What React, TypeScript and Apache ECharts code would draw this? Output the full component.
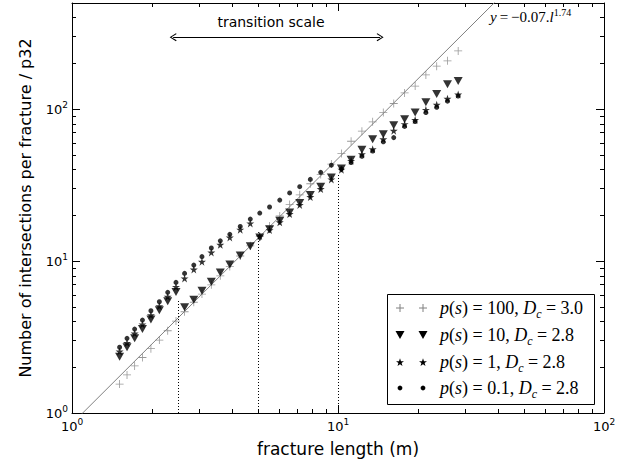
import React, { useEffect, useRef } from "react";
import * as echarts from "echarts";

// fracture length (m) – sample positions
const lengthsM = [1.51, 1.61, 1.72, 1.84, 1.98, 2.13, 2.29, 2.46, 2.65, 2.87, 3.08, 3.34, 3.61, 3.92, 4.29, 4.68, 5.08, 5.53, 6.04, 6.58, 7.18, 7.87, 8.61, 9.44, 10.3, 11.2, 12.3, 13.5, 14.8, 16.2, 17.8, 19.5, 21.4, 23.5, 25.8, 28.3];
// p(s)=100, Dc=3.0
const ps100 = [1.55, 1.78, 2.04, 2.32, 2.65, 3.02, 3.48, 4.03, 4.64, 5.36, 6.07, 6.98, 8.0, 9.23, 10.8, 12.6, 14.5, 17.0, 19.8, 23.6, 27.3, 32.3, 37.2, 43.5, 51.0, 61.5, 71.7, 82.5, 95, 109, 128, 142, 168, 192, 208, 242];
// p(s)=10, Dc=2.8
const ps10 = [2.35, 2.71, 3.1, 3.57, 4.13, 4.74, 5.45, 6.27, 4.96, 5.56, 6.37, 7.3, 8.41, 9.5, 10.9, 12.5, 14.3, 16.2, 18.4, 20.9, 24.1, 27.2, 30.8, 35.5, 40.7, 46.4, 54.0, 63.4, 68.4, 78.5, 86.0, 95.1, 111, 126, 146, 153];
// p(s)=1, Dc=2.8
const ps1 = [2.54, 2.89, 3.34, 3.83, 4.4, 5.05, 5.83, 6.76, 7.69, 8.81, 9.9, 11.4, 12.8, 14.3, 16.1, 17.7, 14.6, 16.0, 18.0, 20.4, 23.4, 26.4, 29.8, 34.5, 40.0, 45.7, 50.5, 54.5, 63.4, 72.1, 79.7, 85, 99, 107, 117, 125];
// p(s)=0.1, Dc=2.8
const ps01 = [2.71, 3.1, 3.57, 4.09, 4.71, 5.4, 6.23, 7.24, 8.3, 9.41, 10.7, 12.2, 13.6, 15.0, 16.9, 18.9, 20.7, 22.7, 25.2, 28.1, 30.9, 34.5, 38.4, 42.8, 40.5, 44.5, 49, 53, 61, 65, 77, 83, 95, 103, 113, 122];

// fitted power law (end points of the drawn line)
const fitLengths = [1, 60];
const fitValues = [0.851, 1079];

// transition scales (dotted lines) and their upper ends
const transitionScales = [2.5, 5, 10];
const transitionTops = [5.6, 15.5, 38];
// "transition scale" arrow span
const arrowSpan = [2.4, 14.4];
const arrowLevel = 298;

const majorX = [1, 10, 100];
const minorX = [2, 3, 4, 5, 6, 7, 8, 9, 20, 30, 40, 50, 60, 70, 80, 90];
const majorY = [1, 10, 100];
const minorY = [2, 3, 4, 5, 6, 7, 8, 9, 20, 30, 40, 50, 60, 70, 80, 90, 200, 300, 400];

const seriesNames = ["p(s)=100, Dc=3.0", "p(s)=10, Dc=2.8", "p(s)=1, Dc=2.8", "p(s)=0.1, Dc=2.8"];
const legendPs = ["100", "10", "1", "0.1"];
const legendDc = ["3.0", "2.8", "2.8", "2.8"];

const SANS = "DejaVu Sans";
const SERIF = "Liberation Serif";

const PLUS = "path://M4.5,0H5.5V4.5H10V5.5H5.5V10H4.5V5.5H0V4.5H4.5Z";
const TRI = "path://M0,0L10,0L5,9Z";
const STAR = "path://M50,0L61.2,34.5L97.6,34.5L68.2,55.9L79.4,90.5L50,69.1L20.6,90.5L31.8,55.9L2.4,34.5L38.8,34.5Z";
const CHEVRON = "path://M5,0L10,9L9,10L5,2.5L1,10L0,9Z";

function starPoints(cx: number, cy: number, R: number) {
  const pts: number[][] = [];
  const r = R * 0.4;
  for (let i = 0; i < 10; i++) {
    const a = -Math.PI / 2 + (i * Math.PI) / 5;
    const rad = i % 2 === 0 ? R : r;
    pts.push([cx + rad * Math.cos(a), cy + rad * Math.sin(a)]);
  }
  return pts;
}

function legendMarker(kind: number, cx: number, cy: number): any {
  if (kind === 0) {
    return {
      type: "group",
      children: [
        { type: "line", shape: { x1: cx - 4, y1: cy, x2: cx + 4, y2: cy }, style: { stroke: "#808080", lineWidth: 1 } },
        { type: "line", shape: { x1: cx, y1: cy - 4, x2: cx, y2: cy + 4 }, style: { stroke: "#808080", lineWidth: 1 } },
      ],
    };
  }
  if (kind === 1) {
    return { type: "polygon", shape: { points: [[cx - 4.5, cy - 4], [cx + 4.5, cy - 4], [cx, cy + 4]] }, style: { fill: "#000" } };
  }
  if (kind === 2) {
    return { type: "polygon", shape: { points: starPoints(cx, cy + 0.5, 4.2) }, style: { fill: "#000" } };
  }
  return { type: "circle", shape: { cx, cy, r: 2.4 }, style: { fill: "#000" } };
}

export default function App() {
  const ref = useRef<HTMLDivElement>(null);
  useEffect(() => {
    if (!ref.current) return;
    const chart = echarts.init(ref.current, undefined, { renderer: "svg" });

    const tickLabelRich = {
      b: { fontSize: 13, fontFamily: SANS, color: "#000", lineHeight: 18, verticalAlign: "middle" },
      s: { fontSize: 9, fontFamily: SANS, color: "#000", lineHeight: 10, verticalAlign: "top" },
    };
    const fmt = (v: number) => "{b|10}{s|" + Math.round(Math.log10(v)) + "}";

    const logX = { type: "log", logBase: 10, min: 1, max: 100 };
    const logY = { type: "log", logBase: 10, min: 1, max: 500 };
    const axisLine = { show: true, onZero: false, lineStyle: { color: "#000", width: 1 } };

    const xAxes = [
      {
        ...logX,
        position: "bottom",
        axisLine,
        axisTick: { show: true, inside: true, length: 8, customValues: majorX, lineStyle: { color: "#000" } },
        axisLabel: { show: true, customValues: majorX, formatter: fmt, rich: tickLabelRich, margin: 4 },
        splitLine: { show: false },
        name: "fracture length (m)",
        nameLocation: "middle",
        nameGap: 27,
        nameTextStyle: { fontFamily: SANS, fontSize: 17, color: "#000" },
      },
      {
        ...logX,
        position: "bottom",
        axisLine: { show: false },
        axisTick: { show: true, inside: true, length: 4, customValues: minorX, lineStyle: { color: "#000" } },
        axisLabel: { show: false },
        splitLine: { show: false },
      },
      {
        ...logX,
        position: "top",
        axisLine,
        axisTick: { show: true, inside: true, length: 8, customValues: majorX, lineStyle: { color: "#000" } },
        axisLabel: { show: false },
        splitLine: { show: false },
      },
      {
        ...logX,
        position: "top",
        axisLine: { show: false },
        axisTick: { show: true, inside: true, length: 4, customValues: minorX, lineStyle: { color: "#000" } },
        axisLabel: { show: false },
        splitLine: { show: false },
      },
    ];
    const yAxes = [
      {
        ...logY,
        position: "left",
        axisLine,
        axisTick: { show: true, inside: true, length: 8, customValues: majorY, lineStyle: { color: "#000" } },
        axisLabel: { show: true, customValues: majorY, formatter: fmt, rich: tickLabelRich, margin: 4 },
        splitLine: { show: false },
        name: "Number of intersections per fracture / p32",
        nameLocation: "middle",
        nameGap: 39,
        nameTextStyle: { fontFamily: SANS, fontSize: 16, color: "#000" },
      },
      {
        ...logY,
        position: "left",
        axisLine: { show: false },
        axisTick: { show: true, inside: true, length: 4, customValues: minorY, lineStyle: { color: "#000" } },
        axisLabel: { show: false },
        splitLine: { show: false },
      },
      {
        ...logY,
        position: "right",
        axisLine,
        axisTick: { show: true, inside: true, length: 8, customValues: majorY, lineStyle: { color: "#000" } },
        axisLabel: { show: false },
        splitLine: { show: false },
      },
      {
        ...logY,
        position: "right",
        axisLine: { show: false },
        axisTick: { show: true, inside: true, length: 4, customValues: minorY, lineStyle: { color: "#000" } },
        axisLabel: { show: false },
        splitLine: { show: false },
      },
    ];

    const pairs = (ys: number[]) => lengthsM.map((x, i) => [x, ys[i]]);

    const dotted = { type: [1, 2], color: "#000", width: 1 };
    const markLineData: any[] = transitionScales.map((x, i) => [
      { coord: [x, 1], symbol: "none", lineStyle: dotted },
      { coord: [x, transitionTops[i]], symbol: "none" },
    ]);
    markLineData.push([
      { coord: [arrowSpan[0], arrowLevel], symbol: CHEVRON, symbolSize: [8, 7], lineStyle: { type: "solid", color: "#000", width: 1 } },
      { coord: [arrowSpan[1], arrowLevel], symbol: CHEVRON, symbolSize: [8, 7] },
    ]);

    const rowY = [308, 335, 362, 388];
    const legendChildren: any[] = [
      { type: "rect", shape: { x: 387.5, y: 294.5, width: 207, height: 110 }, style: { fill: "#fff", stroke: "#000", lineWidth: 1 } },
    ];
    const legendRich = {
      i: { fontFamily: SERIF, fontStyle: "italic", fontSize: 18, color: "#000", lineHeight: 24, verticalAlign: "middle" },
      r: { fontFamily: SERIF, fontSize: 18, color: "#000", lineHeight: 24, verticalAlign: "middle" },
      sub: { fontFamily: SERIF, fontStyle: "italic", fontSize: 12, color: "#000", lineHeight: 12, verticalAlign: "bottom" },
    };
    const sp = "\u2005";
    rowY.forEach((y, k) => {
      legendChildren.push(legendMarker(k, 400, y));
      legendChildren.push(legendMarker(k, 423, y));
      legendChildren.push({
        type: "text",
        x: 440,
        y: y,
        style: {
          text: "{i|p}{r|(}{i|s}{r|)" + sp + "=" + sp + legendPs[k] + ", }{i|D}{sub|c}{r|" + sp + "=" + sp + legendDc[k] + "}",
          rich: legendRich,
          align: "left",
          verticalAlign: "middle",
        },
      });
    });

    const option: any = {
      animation: false,
      backgroundColor: "#fff",
      grid: { left: 72, right: 20, top: 3, bottom: 53, containLabel: false },
      xAxis: xAxes,
      yAxis: yAxes,
      series: [
        {
          type: "line",
          name: "fit",
          data: fitLengths.map((x, i) => [x, fitValues[i]]),
          showSymbol: false,
          symbol: "none",
          lineStyle: { color: "#808080", width: 1 },
          clip: true,
          z: 1,
          silent: true,
          markLine: {
            silent: true,
            symbol: ["none", "none"],
            label: { show: false },
            lineStyle: { color: "#000", width: 1 },
            data: markLineData,
          },
        },
        {
          type: "scatter",
          name: seriesNames[0],
          data: pairs(ps100),
          symbol: PLUS,
          symbolSize: 8,
          itemStyle: { color: "#808080" },
          z: 2,
        },
        {
          type: "scatter",
          name: seriesNames[1],
          data: pairs(ps10),
          symbol: TRI,
          symbolSize: [9, 8],
          itemStyle: { color: "#000" },
          z: 3,
        },
        {
          type: "scatter",
          name: seriesNames[2],
          data: pairs(ps1),
          symbol: STAR,
          symbolSize: 8,
          itemStyle: { color: "#000" },
          z: 4,
        },
        {
          type: "scatter",
          name: seriesNames[3],
          data: pairs(ps01),
          symbol: "circle",
          symbolSize: 5,
          itemStyle: { color: "#000" },
          z: 5,
        },
      ],
      graphic: [
        {
          type: "text",
          x: 271,
          y: 22,
          z: 100,
          style: { text: "transition scale", fontFamily: SANS, fontSize: 14, fill: "#000", align: "center", verticalAlign: "middle" },
        },
        {
          type: "text",
          x: 490,
          y: 17,
          z: 100,
          style: {
            text: "{i|y}{r|" + "\u2009=\u2009\u22120.07.}{i|l}{sup|1.74}",
            align: "left",
            verticalAlign: "middle",
            rich: {
              i: { fontFamily: SERIF, fontStyle: "italic", fontSize: 15, color: "#000", lineHeight: 20, verticalAlign: "middle" },
              r: { fontFamily: SERIF, fontSize: 15, color: "#000", lineHeight: 20, verticalAlign: "middle" },
              sup: { fontFamily: SERIF, fontSize: 10, color: "#000", lineHeight: 10, verticalAlign: "top" },
            },
          },
        },
        { type: "group", z: 100, children: legendChildren },
      ],
    };
    chart.setOption(option);
    return () => chart.dispose();
  }, []);
  return <div ref={ref} style={{ position: "fixed", left: 0, top: 0, width: 624, height: 466, background: "#fff" }} />;
}
